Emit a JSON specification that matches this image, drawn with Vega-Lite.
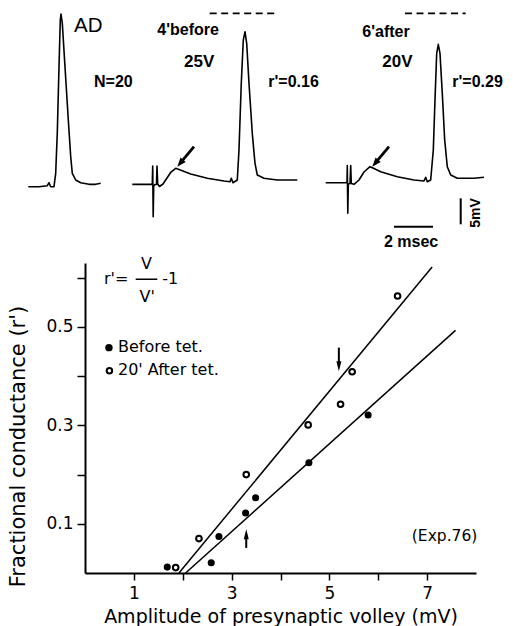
{
  "$schema": "https://vega.github.io/schema/vega-lite/v6.json",
  "background": "white",
  "padding": {"left": 7, "top": 0, "right": 0, "bottom": 0},
  "spacing": 5,
  "config": {"view": {"stroke": null}, "font": "DejaVu Sans"},
  "datasets": {
    "traces": [
      {"trace": "AD", "t": 1.092, "v": 12.17}, {"trace": "AD", "t": 1.641, "v": 12.17}, {"trace": "AD", "t": 2.067, "v": 12.37},
      {"trace": "AD", "t": 2.154, "v": 12.94}, {"trace": "AD", "t": 2.241, "v": 12.17}, {"trace": "AD", "t": 2.41, "v": 12.17},
      {"trace": "AD", "t": 2.497, "v": 14.75}, {"trace": "AD", "t": 2.579, "v": 22.5}, {"trace": "AD", "t": 2.667, "v": 35.25},
      {"trace": "AD", "t": 2.733, "v": 44.23}, {"trace": "AD", "t": 2.769, "v": 45.38}, {"trace": "AD", "t": 2.836, "v": 43.6},
      {"trace": "AD", "t": 2.974, "v": 35.25}, {"trace": "AD", "t": 3.144, "v": 25.0}, {"trace": "AD", "t": 3.267, "v": 17.94},
      {"trace": "AD", "t": 3.349, "v": 14.75}, {"trace": "AD", "t": 3.523, "v": 13.46}, {"trace": "AD", "t": 3.779, "v": 12.94},
      {"trace": "AD", "t": 4.205, "v": 12.63}, {"trace": "AD", "t": 4.549, "v": 12.63}, {"trace": "AD", "t": 4.805, "v": 12.83},
      {"trace": "before", "t": 6.426, "v": 12.63}, {"trace": "before", "t": 7.282, "v": 12.63}, {"trace": "before", "t": 7.451, "v": 12.63},
      {"trace": "before", "t": 7.472, "v": 16.15}, {"trace": "before", "t": 7.497, "v": 6.4}, {"trace": "before", "t": 7.523, "v": 12.31},
      {"trace": "before", "t": 7.59, "v": 12.6}, {"trace": "before", "t": 7.667, "v": 12.6}, {"trace": "before", "t": 7.692, "v": 16.15},
      {"trace": "before", "t": 7.728, "v": 12.69}, {"trace": "before", "t": 7.821, "v": 12.21}, {"trace": "before", "t": 8.0, "v": 12.69},
      {"trace": "before", "t": 8.205, "v": 13.85}, {"trace": "before", "t": 8.41, "v": 15.0}, {"trace": "before", "t": 8.651, "v": 15.71},
      {"trace": "before", "t": 8.821, "v": 15.48}, {"trace": "before", "t": 9.421, "v": 14.62}, {"trace": "before", "t": 10.272, "v": 13.79},
      {"trace": "before", "t": 11.128, "v": 13.27}, {"trace": "before", "t": 11.436, "v": 13.13}, {"trace": "before", "t": 11.503, "v": 13.79},
      {"trace": "before", "t": 11.59, "v": 12.94}, {"trace": "before", "t": 11.81, "v": 13.46}, {"trace": "before", "t": 11.897, "v": 19.23},
      {"trace": "before", "t": 12.015, "v": 32.06}, {"trace": "before", "t": 12.118, "v": 40.38}, {"trace": "before", "t": 12.205, "v": 41.98},
      {"trace": "before", "t": 12.292, "v": 39.75}, {"trace": "before", "t": 12.41, "v": 32.06}, {"trace": "before", "t": 12.579, "v": 22.44},
      {"trace": "before", "t": 12.718, "v": 16.67}, {"trace": "before", "t": 12.836, "v": 14.42}, {"trace": "before", "t": 13.179, "v": 13.79},
      {"trace": "before", "t": 13.862, "v": 13.46}, {"trace": "before", "t": 14.887, "v": 13.46},
      {"trace": "after", "t": 16.344, "v": 12.94}, {"trace": "after", "t": 17.369, "v": 12.94}, {"trace": "after", "t": 17.436, "v": 12.94},
      {"trace": "after", "t": 17.451, "v": 16.25}, {"trace": "after", "t": 17.477, "v": 7.06}, {"trace": "after", "t": 17.503, "v": 12.69},
      {"trace": "after", "t": 17.59, "v": 12.79}, {"trace": "after", "t": 17.626, "v": 16.25}, {"trace": "after", "t": 17.656, "v": 12.79},
      {"trace": "after", "t": 17.795, "v": 12.63}, {"trace": "after", "t": 18.051, "v": 13.46}, {"trace": "after", "t": 18.308, "v": 15.0},
      {"trace": "after", "t": 18.615, "v": 16.02}, {"trace": "after", "t": 18.821, "v": 15.67}, {"trace": "after", "t": 19.164, "v": 15.06},
      {"trace": "after", "t": 20.015, "v": 14.1}, {"trace": "after", "t": 20.872, "v": 13.46}, {"trace": "after", "t": 21.385, "v": 13.27},
      {"trace": "after", "t": 21.472, "v": 13.98}, {"trace": "after", "t": 21.554, "v": 13.13}, {"trace": "after", "t": 21.728, "v": 13.46},
      {"trace": "after", "t": 21.862, "v": 19.23}, {"trace": "after", "t": 21.949, "v": 28.85}, {"trace": "after", "t": 22.036, "v": 37.83},
      {"trace": "after", "t": 22.118, "v": 39.56}, {"trace": "after", "t": 22.205, "v": 37.83}, {"trace": "after", "t": 22.323, "v": 30.13},
      {"trace": "after", "t": 22.446, "v": 21.15}, {"trace": "after", "t": 22.579, "v": 16.02}, {"trace": "after", "t": 22.754, "v": 14.42},
      {"trace": "after", "t": 23.092, "v": 13.79}, {"trace": "after", "t": 23.949, "v": 13.79}, {"trace": "after", "t": 24.462, "v": 13.98}
    ],
    "dashes": [{"t": 10.395, "t2": 13.744, "v": 45.52}, {"t": 20.41, "t2": 23.523, "v": 45.52}],
    "traceArrows": [{"t": 9.59, "v": 19.87, "t2": 8.882, "v2": 16.69}, {"t": 19.59, "v": 19.87, "t2": 18.882, "v2": 16.69}],
    "traceHeads": [{"t": 8.882, "v": 16.69}, {"t": 18.882, "v": 16.69}],
    "timeBar": [{"t": 19.846, "t2": 21.846, "v": 4.48}],
    "voltBar": [{"t": 23.267, "v": 4.94, "v2": 9.94}],
    "labelAD": [{"label": "AD", "t": 3.436, "v": 41.98}],
    "labelsBold": [
      {"label": "N=20", "t": 4.462, "v": 31.4},
      {"label": "4'before", "t": 7.708, "v": 41.35},
      {"label": "r'=0.16", "t": 13.4, "v": 31.4},
      {"label": "6'after", "t": 18.221, "v": 41.02},
      {"label": "r'=0.29", "t": 22.836, "v": 31.4},
      {"label": "2 msec", "t": 19.333, "v": 0.63}
    ],
    "labelsVolt": [{"label": "25V", "t": 9.077, "v": 35.25}, {"label": "20V", "t": 19.246, "v": 35.25}],
    "label5mV": [{"label": "5mV", "t": 24.077, "v": 7.12}],
    "before": [
      {"x": 1.683, "y": 0.012}, {"x": 2.583, "y": 0.021}, {"x": 2.74, "y": 0.074}, {"x": 3.286, "y": 0.122},
      {"x": 3.491, "y": 0.153}, {"x": 4.581, "y": 0.224}, {"x": 5.793, "y": 0.321}
    ],
    "after": [
      {"x": 1.855, "y": 0.011}, {"x": 2.331, "y": 0.07}, {"x": 3.299, "y": 0.2}, {"x": 4.566, "y": 0.301},
      {"x": 5.229, "y": 0.343}, {"x": 5.466, "y": 0.409}, {"x": 6.395, "y": 0.563}
    ],
    "fits": [
      {"series": "after", "x": 1.922, "y": 0, "x2": 7.102, "y2": 0.622},
      {"series": "before", "x": 2.059, "y": 0, "x2": 7.581, "y2": 0.493}
    ],
    "plotArrows": [{"x": 5.194, "y": 0.458, "y2": 0.42}, {"x": 3.299, "y": 0.051, "y2": 0.079}],
    "headDown": [{"x": 5.194, "y": 0.42}],
    "headUp": [{"x": 3.299, "y": 0.079}],
    "legendFilled": [{"x": 0.49, "y": 0.458}],
    "legendOpen": [{"x": 0.5, "y": 0.411}],
    "legendText": [{"label": "Before tet.", "x": 0.675, "y": 0.449}, {"label": "20' After tet.", "x": 0.675, "y": 0.402}],
    "formulaLeft": [{"label": "r'=", "x": 0.389, "y": 0.587}, {"label": "-1", "x": 1.581, "y": 0.587}],
    "formulaFrac": [{"label": "V", "x": 1.258, "y": 0.618}, {"label": "V'", "x": 1.274, "y": 0.55}],
    "fracBar": [{"x": 1.037, "x2": 1.479, "y": 0.597}],
    "exp": [{"label": "(Exp.76)", "x": 6.687, "y": 0.065}]
  },
  "vconcat": [
    {
      "width": 431,
      "height": 250,
      "encoding": {
        "x": {"field": "t", "type": "quantitative", "scale": {"domain": [4.0, 26.103], "nice": false, "zero": false}, "axis": null},
        "y": {"field": "v", "type": "quantitative", "scale": {"domain": [0, 48.08], "nice": false, "zero": false}, "axis": null}
      },
      "layer": [
        {"data": {"name": "traces"}, "mark": {"type": "line", "color": "black", "strokeWidth": 1.6, "strokeJoin": "round", "clip": false}, "encoding": {"detail": {"field": "trace"}}},
        {"data": {"name": "dashes"}, "mark": {"type": "rule", "color": "black", "strokeWidth": 1.8, "strokeDash": [7, 4.5]}, "encoding": {"x2": {"field": "t2"}}},
        {"data": {"name": "traceArrows"}, "mark": {"type": "rule", "color": "black", "strokeWidth": 2.8}, "encoding": {"x2": {"field": "t2"}, "y2": {"field": "v2"}}},
        {"data": {"name": "traceHeads"}, "mark": {"type": "point", "shape": "M0,-1L0.75,1L-0.75,1Z", "filled": true, "color": "black", "opacity": 1, "size": 81, "angle": 220}, "encoding": {}},
        {"data": {"name": "timeBar"}, "mark": {"type": "rule", "color": "black", "strokeWidth": 2}, "encoding": {"x2": {"field": "t2"}}},
        {"data": {"name": "voltBar"}, "mark": {"type": "rule", "color": "black", "strokeWidth": 2}, "encoding": {"y2": {"field": "v2"}}},
        {"data": {"name": "labelAD"}, "mark": {"type": "text", "font": "Liberation Sans", "fontSize": 20.5, "align": "left", "baseline": "alphabetic", "color": "black"}, "encoding": {"text": {"field": "label"}}},
        {"data": {"name": "labelsBold"}, "mark": {"type": "text", "font": "Liberation Sans", "fontSize": 16, "fontWeight": "bold", "align": "left", "baseline": "alphabetic", "color": "black"}, "encoding": {"text": {"field": "label"}}},
        {"data": {"name": "labelsVolt"}, "mark": {"type": "text", "font": "Liberation Sans", "fontSize": 17, "fontWeight": "bold", "align": "left", "baseline": "alphabetic", "color": "black"}, "encoding": {"text": {"field": "label"}}},
        {"data": {"name": "label5mV"}, "mark": {"type": "text", "font": "Liberation Sans", "fontSize": 14, "fontWeight": "bold", "align": "center", "baseline": "middle", "angle": 270, "color": "black"}, "encoding": {"text": {"field": "label"}}}
      ]
    },
    {
      "width": 391,
      "height": 310,
      "encoding": {
        "x": {
          "field": "x", "type": "quantitative",
          "scale": {"domain": [0, 8], "nice": false, "zero": false},
          "axis": {
            "title": "Amplitude of presynaptic volley (mV)", "values": [1, 2, 3, 4, 5, 6, 7], "format": "d",
            "labelExpr": "datum.value % 2 == 1 ? datum.label : ''",
            "grid": false, "domainColor": "black", "domainWidth": 2, "tickColor": "black", "tickWidth": 1.5, "tickSize": 7,
            "labelColor": "black", "labelFont": "DejaVu Sans", "labelFontSize": 17, "labelPadding": 5,
            "titleColor": "black", "titleFont": "DejaVu Sans", "titleFontSize": 19, "titleFontWeight": "normal", "titlePadding": 6
          }
        },
        "y": {
          "field": "y", "type": "quantitative",
          "scale": {"domain": [0, 0.63], "nice": false, "zero": false},
          "axis": {
            "title": "Fractional conductance (r')", "values": [0.1, 0.2, 0.3, 0.4, 0.5, 0.6], "format": ".1f",
            "labelExpr": "round(datum.value * 10) % 2 == 1 ? datum.label : ''",
            "grid": false, "domainColor": "black", "domainWidth": 2, "tickColor": "black", "tickWidth": 1.5, "tickSize": 8,
            "labelColor": "black", "labelFont": "DejaVu Sans", "labelFontSize": 17, "labelPadding": 4,
            "titleColor": "black", "titleFont": "DejaVu Sans", "titleFontSize": 21, "titleFontWeight": "normal", "titlePadding": 17,
            "titleY": 183
          }
        }
      },
      "layer": [
        {"data": {"name": "fits"}, "mark": {"type": "rule", "color": "black", "strokeWidth": 1.5}, "encoding": {"x2": {"field": "x2"}, "y2": {"field": "y2"}}},
        {"data": {"name": "before"}, "mark": {"type": "circle", "color": "black", "opacity": 1, "size": 50}, "encoding": {}},
        {"data": {"name": "after"}, "mark": {"type": "point", "shape": "circle", "filled": false, "fill": "white", "stroke": "black", "strokeWidth": 2, "opacity": 1, "size": 32}, "encoding": {}},
        {"data": {"name": "plotArrows"}, "mark": {"type": "rule", "color": "black", "strokeWidth": 2}, "encoding": {"y2": {"field": "y2"}}},
        {"data": {"name": "headDown"}, "mark": {"type": "point", "shape": "M0,-1L0.5,1L-0.5,1Z", "filled": true, "color": "black", "opacity": 1, "size": 100, "angle": 180}, "encoding": {}},
        {"data": {"name": "headUp"}, "mark": {"type": "point", "shape": "M0,-1L0.5,1L-0.5,1Z", "filled": true, "color": "black", "opacity": 1, "size": 100}, "encoding": {}},
        {"data": {"name": "legendFilled"}, "mark": {"type": "circle", "color": "black", "opacity": 1, "size": 55}, "encoding": {}},
        {"data": {"name": "legendOpen"}, "mark": {"type": "point", "shape": "circle", "filled": false, "stroke": "black", "strokeWidth": 2, "opacity": 1, "size": 30}, "encoding": {}},
        {"data": {"name": "legendText"}, "mark": {"type": "text", "font": "DejaVu Sans", "fontSize": 16, "align": "left", "baseline": "alphabetic", "color": "black"}, "encoding": {"text": {"field": "label"}}},
        {"data": {"name": "formulaLeft"}, "mark": {"type": "text", "font": "DejaVu Sans", "fontSize": 16, "align": "left", "baseline": "alphabetic", "color": "black"}, "encoding": {"text": {"field": "label"}}},
        {"data": {"name": "formulaFrac"}, "mark": {"type": "text", "font": "DejaVu Sans", "fontSize": 16, "align": "center", "baseline": "alphabetic", "color": "black"}, "encoding": {"text": {"field": "label"}}},
        {"data": {"name": "fracBar"}, "mark": {"type": "rule", "color": "black", "strokeWidth": 1.5}, "encoding": {"x2": {"field": "x2"}}},
        {"data": {"name": "exp"}, "mark": {"type": "text", "font": "DejaVu Sans", "fontSize": 15.5, "align": "left", "baseline": "alphabetic", "color": "black"}, "encoding": {"text": {"field": "label"}}}
      ]
    }
  ]
}
